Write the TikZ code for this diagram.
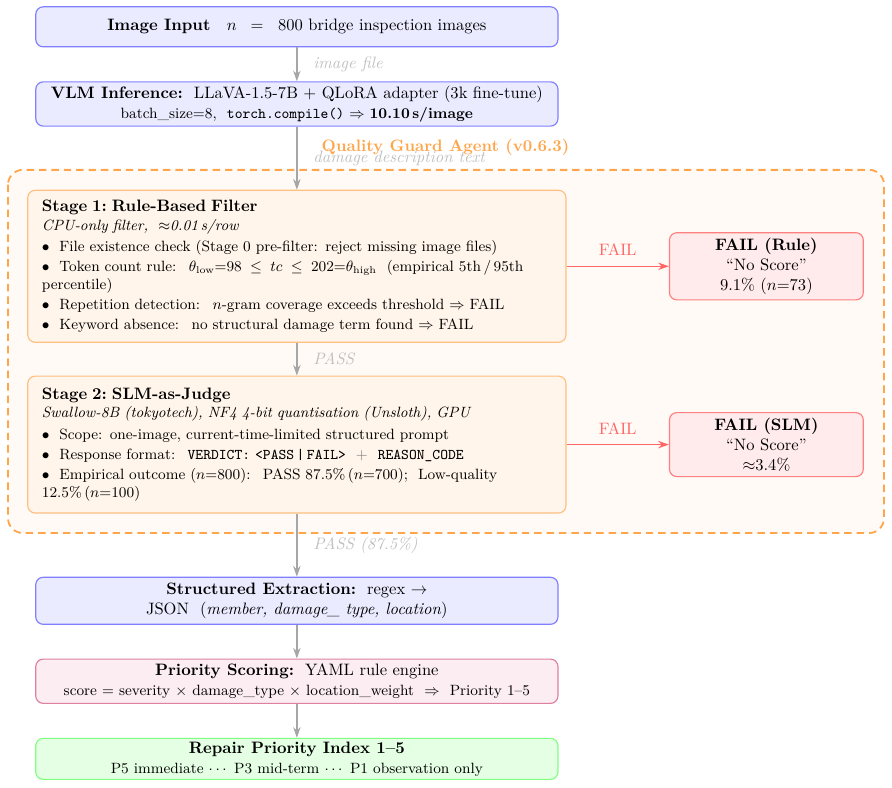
\documentclass[tikz,border=0pt]{standalone}
\usepackage{amsmath}
\usetikzlibrary{arrows.meta}

\begin{document}
\begin{tikzpicture}[
    flowbox/.style={draw=blue!50, fill=blue!8, rounded corners=4.5pt, line width=0.7pt, align=center, minimum width=11.10cm, inner sep=2pt},
    stagebox/.style={draw=orange!50, fill=orange!8, rounded corners=4.5pt, line width=0.7pt, align=left, text width=10.84cm, inner xsep=0.30cm, font=\small},
    failbox/.style={draw=red!50, fill=red!8, rounded corners=4.5pt, line width=0.7pt, align=center, minimum width=4.12cm},
    flow/.style={-{Stealth[length=6.5pt, width=4.5pt]}, draw=gray!70, line width=0.8pt},
    failflow/.style={-{Stealth[length=6.5pt, width=4.5pt]}, draw=red!60, line width=0.8pt},
    flowlbl/.style={font=\itshape, text=gray!50, xshift=2.2mm},
    faillbl/.style={text=red!60, yshift=2.5pt}
  ]
  \useasboundingbox (0,0) rectangle (18.96,-16.73);

  % agent frame
  \draw[draw=orange!70, fill=orange!4, dashed, dash pattern=on 4.5pt off 3pt, line width=1.1pt, rounded corners=9pt] (0.17,-3.61) rectangle (18.79,-11.33);
  \node[font=\bfseries, text=orange!70] (qgtitle) at (9.47,-3.13) {Quality Guard Agent (v0.6.3)};

  \node[flowbox, minimum height=0.85cm] (input) at (6.31,-0.57) {\textbf{Image Input}\quad $n\;\;=\;\;$ 800 bridge inspection images};
  \node[flowbox, minimum height=0.94cm] (vlm) at (6.31,-2.21) {\textbf{VLM Inference:}\ \ LLaVA-1.5-7B $+$ QLoRA adapter (3k fine-tune)\\ {\small batch\_size=8, \ \texttt{torch.compile()} $\Rightarrow$ \textbf{10.10\,s/image}}};

  \node[stagebox, minimum height=3.23cm] (stage1) at (6.31,-5.66) {{\normalsize\textbf{Stage 1:\ Rule-Based Filter}}\\
    \textit{CPU-only filter, \ $\approx$0.01\,s/row}\\[2pt]
    $\bullet$\ \ File existence check (Stage 0 pre-filter: reject missing image files)\\[1pt]
    $\bullet$\ \ Token count rule: \ $\theta_{\text{low}}{=}98 \le tc \le 202{=}\theta_{\text{high}}$ \ (empirical 5th\,/\,95th \mbox{percentile)}\\[1pt]
    $\bullet$\ \ Repetition detection: \ $n$-gram coverage exceeds threshold $\Rightarrow$ FAIL\\[1pt]
    $\bullet$\ \ Keyword absence: \ no structural damage term found $\Rightarrow$ FAIL};

  \node[stagebox, minimum height=2.91cm] (stage2) at (6.31,-9.45) {{\normalsize\textbf{Stage 2:\ SLM-as-Judge}}\\
    \textit{Swallow-8B (tokyotech), NF4 4-bit quantisation (Unsloth), GPU}\\[2pt]
    $\bullet$\ \ Scope: one-image, current-time-limited structured prompt\\[1pt]
    $\bullet$\ \ Response format: \ \texttt{VERDICT: <PASS\,|\,FAIL>} \ {\color{gray}$+$} \ \texttt{REASON\_CODE}\\[1pt]
    $\bullet$\ \ Empirical outcome ($n{=}800$): \ PASS 87.5\%\,($n{=}700$); \ Low-quality 12.5\%\,($n{=}100$)};

  \node[failbox, minimum height=1.40cm] (failrule) at (16.29,-5.66) {\textbf{FAIL (Rule)}\\ ``No Score''\\ 9.1\% ($n{=}73$)};
  \node[failbox, minimum height=1.34cm] (failslm) at (16.29,-9.45) {\textbf{FAIL (SLM)}\\ ``No Score''\\ $\approx$3.4\%};

  \node[flowbox, minimum height=1.00cm] (extract) at (6.31,-12.77) {\textbf{Structured Extraction:}\ \ regex $\rightarrow$\\ JSON \ (\textit{member, damage\_ type, location})};
  \node[flowbox, draw=purple!50, fill=purple!7, minimum height=0.94cm] (priority) at (6.31,-14.48) {\textbf{Priority Scoring:}\ \ YAML rule engine\\ {\small score $=$ severity $\times$ damage\_type $\times$ location\_weight \ $\Rightarrow$ \ Priority 1--5}};
  \node[flowbox, draw=green!50, fill=green!10, minimum height=0.87cm] (repair) at (6.31,-16.13) {\textbf{Repair Priority Index 1--5}\\ {\small P5 immediate $\cdots$ P3 mid-term $\cdots$ P1 observation only}};

  \draw[flow] (input) -- (vlm) node[flowlbl, midway, right] {image file};
  \draw[flow] (vlm) -- (stage1) node[flowlbl, midway, right] {damage description text};
  \draw[flow] (stage1) -- (stage2) node[flowlbl, midway, right] {PASS};
  \draw[flow] (stage2) -- (extract) node[flowlbl, midway, right] {PASS (87.5\%)};
  \draw[flow] (extract) -- (priority);
  \draw[flow] (priority) -- (repair);

  \draw[failflow] (stage1) -- (failrule) node[faillbl, midway, above] {FAIL};
  \draw[failflow] (stage2) -- (failslm) node[faillbl, midway, above] {FAIL};
\end{tikzpicture}
\end{document}
